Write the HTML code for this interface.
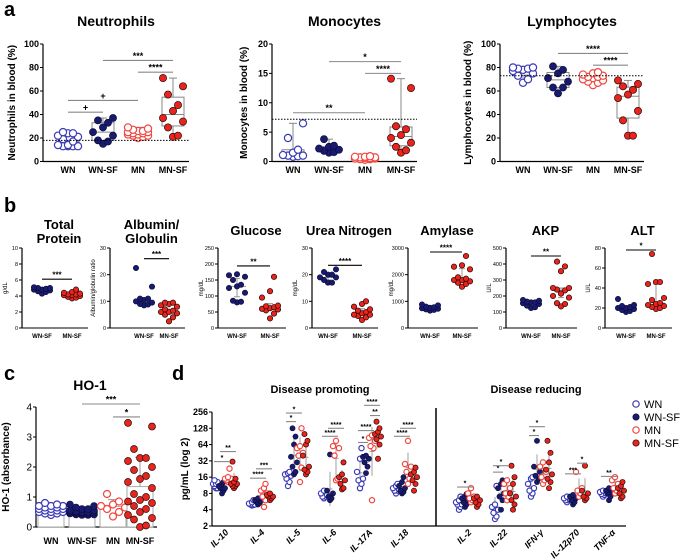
<!DOCTYPE html>
<html><head><meta charset="utf-8"><style>
html,body{margin:0;padding:0;background:#fff}
svg{display:block;font-family:"Liberation Sans",Arial,sans-serif}
</style></head><body>
<svg id="fig" width="683" height="559" viewBox="0 0 683 559" xmlns="http://www.w3.org/2000/svg"></svg>
<script>
// ---------- DATA ----------
const groupsA = ["WN","WN-SF","MN","MN-SF"];
const neutroWN   = [13,13,13,14,14,17,19,21,22,24,25,24,13];
const neutroWNSF = [15,17,18,22,25,29,33,35,37];
const neutroMN   = [20,21,22,23,23,24,24,25,25,26,26,27,28,29,22];
const neutroMNSF = [21,22,29,34,37,43,48,57,64,71];
const monoWN   = [0.8,0.9,1.0,1.0,1.1,1.5,2.0,4.0,6.5];
const monoWNSF = [1.5,1.6,1.8,2.0,2.2,2.5,2.7,3.8];
const monoMN   = [0.3,0.4,0.5,0.5,0.6,0.7,0.8,0.8,0.9,0.4,0.6,0.7];
const monoMNSF = [1.5,1.9,2.5,3.2,4.0,4.5,5.5,6.0,12.5,14.1];
const lymWN   = [67,70,73,75,77,78,79,79,80,80];
const lymWNSF = [58,63,63,68,71,75,78,81];
const lymMN   = [65,67,68,70,71,72,73,74,75,76,72,69];
const lymMNSF = [22,22,35,43,54,57,61,64,66,69];
const neutroTicks = [0,20,40,60,80,100];
const monoTicks = [0,5,10,15,20];
const lymTicks = [0,20,40,60,80,100];

const groupsB = ["WN-SF","MN-SF"];
const tpWN=[4.3,4.5,4.6,4.7,4.8,4.8,4.9,5.0,5.0,5.1], tpMN=[3.7,3.8,3.9,4.0,4.1,4.1,4.2,4.2,4.3,4.4,4.5,4.8];
const agWN=[8.5,8.8,9,9.5,10,10.5,11,11,15.5,22.5], agMN=[2.5,4,5,5.5,6,6,6.5,7,8,8.5,9,9.5,9.5];
const gluWN=[80,82,85,110,125,130,135,150,160,165,168], gluMN=[30,45,55,58,60,62,65,68,70,95,115,160];
const ureaWN=[17,17,18,19,19,20,20,21,22], ureaMN=[3,4,4.5,5,5,5.5,6,6.5,7,8,9,10];
const amyWN=[650,680,700,720,740,760,780,800,850,880], amyMN=[1550,1650,1700,1750,1800,1800,1850,1900,2200,2300,2350,2700];
const akpWN=[125,130,140,150,155,160,160,165,170,175], akpMN=[135,150,155,190,200,215,235,240,250,250,355,385,415];
const altWN=[16,17,18,19,20,20,21,22,23,29], altMN=[19,20,21,22,23,24,25,28,30,44,46,46,74];

const hoWN=[0.4,0.45,0.5,0.5,0.55,0.55,0.6,0.6,0.6,0.65,0.7,0.7,0.7,0.75,0.8,0.5,0.45,0.65];
const hoWNSF=[0.4,0.4,0.42,0.45,0.45,0.48,0.5,0.5,0.5,0.52,0.55,0.55,0.6,0.6,0.65,0.7,0.75,0.45,0.5,0.42];
const hoMN=[0.35,0.5,0.6,0.65,0.7,0.75,0.85,1.1];
const hoMNSF=[0,0.05,0.3,0.4,0.5,0.6,0.7,0.8,0.9,1.0,1.1,1.3,1.5,1.6,1.7,1.9,2.0,2.2,2.3,2.3,2.6,3.35,3.47,0.85,0.25];
const hoTicks=[0,1,2,3,4];

const cytoProm = ["IL-10","IL-4","IL-5","IL-6","IL-17A","IL-18"];
const cytoRed  = ["IL-2","IL-22","IFN-γ","IL-12p70","TNF-α"];
const cWN = [[10,11,12,13,14,11,12,10],[4.8,5,5.2,5.5,6,5,4.9],[11,13,15,17,18,20,19],[6.5,7,7.5,8,9,7],[10,12,14,15,20,35,55],[8,9,9.5,10,11,12,9],
             [4,4.5,5,5.5,6,7,5],[2.7,3,3.5,4,4.5,5,11],[7,8,9,10,12,15,16],[5.5,6,6.2,6.5,7,6],[7,7.5,8,8.5,9,7.8]];
const cWNSF=[[8,9,10,11,12,13,10],[5,5.3,5.6,6,6.5,5.8],[18,20,25,30,38,64,90,128],[6,6.5,7,8,9,42],[19,25,30,35,38,40],[8,8.5,9,10,11,13,16],
             [4.5,5,5.5,6,6.5,7,7.8],[4,6,7,8,10,12,14],[13,15,17,20,25,75],[5,5.5,6,6.5,7,7.5],[6,7,8,8.5,9,10]];
const cMN = [[13,14,15,16,23,14,15],[4.5,6,7,8,9,10,12],[13,24,40,45,60,55,128],[14,15,40,55,60,75],[6,55,60,75,85,95],[12,15,20,25,28,75],
             [5.5,6,7,8,10,6.5],[6,7,8,10,12,14],[12,14,16,20,25,30],[7,8,9,10,20],[8,9,10,12,14,16]];
const cMNSF=[[10,11,12,13,15,31,11,12],[6,6.5,7,7.5,8,7],[18,20,22,25,40,64,75,100],[9.5,10,12,14,16,18,30],[35,64,80,90,100,110,128,170],[9,12,14,16,18,20,24],
             [4.5,5,5.5,6,6.5,7],[4,5,6,7,8,12,16,26],[10,13,15,18,22,30,45,75],[6,6.5,7,8,9,26],[6.5,7,8,9,10,11,13]];
const logTicks=[2,4,8,16,32,64,128,256];
// significance: [group index, from series, to series, value, label]
const sigD=[[0,0,2,31,"*"],[0,1,3,47.5,"**"],[1,0,2,15.3,"****"],[1,1,3,22.8,"***"],[2,0,1,170,"*"],[2,0,2,245,"*"],
            [3,0,2,91,"****"],[3,1,3,128,"****"],[4,0,1,70,"*"],[4,0,2,116,"****"],[4,1,3,340,"****"],[4,2,3,220,"**"],
            [5,0,2,91,"****"],[5,1,3,128,"****"],[6,0,2,10.5,"*"],[7,0,1,19.8,"*"],[7,0,2,26,"*"],[8,0,1,94,"*"],[8,0,2,137,"*"],
            [9,0,2,18.4,"***"],[9,2,3,29,"*"],[10,0,2,16.5,"**"]];

// ---------- HELPERS ----------
const NS="http://www.w3.org/2000/svg";
const svg=document.getElementById('fig');
const NAVY='#171a6e', BLUE='#3b3bb8', RED='#e8241c', LRED='#f2463f';
const STY=[{f:'#fff',s:BLUE,w:1.2},{f:NAVY,s:'#0a0a30',w:0.6},{f:'#fff',s:LRED,w:1.2},{f:RED,s:'#2a0a0a',w:0.7}];
function mk(tag,attrs,parent){const e=document.createElementNS(NS,tag);for(const k in attrs)e.setAttribute(k,attrs[k]);(parent||svg).appendChild(e);return e;}
function txt(x,y,s,size,opts,parent){const o=Object.assign({x:x,y:y,'font-size':size,'text-anchor':'middle',fill:'#000'},opts||{});const e=mk('text',o,parent);e.textContent=s;return e;}
function line(x1,y1,x2,y2,st,w,parent){return mk('line',{x1:x1,y1:y1,x2:x2,y2:y2,stroke:st,'stroke-width':w},parent);}
function q(arr,p){const a=[...arr].sort((x,y)=>x-y);const i=(a.length-1)*p;const lo=Math.floor(i),hi=Math.ceil(i);return a[lo]+(a[hi]-a[lo])*(i-lo);}
function mean(a){return a.reduce((s,v)=>s+v,0)/a.length;}
function sd(a){const m=mean(a);return Math.sqrt(a.reduce((s,v)=>s+(v-m)*(v-m),0)/(a.length-1));}
function jit(i,n,w){const k=i%5;return ((k%2?1:-1)*Math.ceil(k/2))*w/2;}
function dots(vals,cx,ys,r,sty,spread,parent,name){
  const sorted=[...vals].sort((a,b)=>a-b);
  sorted.forEach((v,i)=>{const c=mk('circle',{cx:cx+jit(i,vals.length,spread),cy:ys(v),r:r,fill:sty.f,stroke:sty.s,'stroke-width':sty.w},parent);
    
    });
}
function group(name){const g=mk('g',{});return g;}

function yAxis(g,ax,yTop,yBot,min,max,ticks,fs,bold){
  const ys=v=>yBot-(v-min)/(max-min)*(yBot-yTop);
  const a=line(ax,yTop,ax,yBot,'#000',1.2,g);
  
  
  ticks.forEach(t=>{line(ax-3,ys(t),ax,ys(t),'#000',1,g);
    const l=txt(ax-4,ys(t)+fs*0.35,String(t),fs,{'text-anchor':'end','font-weight':bold?'bold':'normal'},g);
    
    });
  return ys;
}
function sig(g,x1,x2,y,label,col,fs){line(x1,y,x2,y,col,1.1,g);const t=txt((x1+x2)/2,y-1.5,label,fs,{'font-weight':'bold'},g);
  
  }

// ---------- PANEL LABELS ----------
[["a",4,16],["b",4,212],["c",4,380],["d",172,380]].forEach(p=>{const t=txt(p[1],p[2],p[0],20,{'text-anchor':'start','font-weight':'bold'});
  
  });

// ---------- PANEL A ----------
function boxPanel(name,title,ytitle,ax,x0,step,ytitleX,max,ticks,series,dashed,sigs){
  const g=group(name);
  const yTop=44,yBot=161.5;
  const ys=yAxis(g,ax,yTop,yBot,0,max,ticks,9,true);
  const xEnd=x0+3*step+16;
  line(ax,yBot,xEnd,yBot,'#000',1.2,g);
  const tt=txt((ax+xEnd)/2,26,title,14,{'font-weight':'bold'},g);
  
  
  const yt=txt(0,0,ytitle,10,{'font-weight':'bold',transform:`translate(${ytitleX},${(yTop+yBot)/2}) rotate(-90)`},g);
  
  
  series.forEach((vals,i)=>{const cx=x0+i*step;
    const q1=q(vals,0.25),q3=q(vals,0.75),md=q(vals,0.5),mn=Math.min(...vals),mx=Math.max(...vals);
    line(cx,ys(mx),cx,ys(q3),'#888',1,g);line(cx,ys(q1),cx,ys(mn),'#888',1,g);
    line(cx-4,ys(mx),cx+4,ys(mx),'#888',1,g);line(cx-4,ys(mn),cx+4,ys(mn),'#888',1,g);
    const b=mk('rect',{x:cx-11,y:ys(q3),width:22,height:ys(q1)-ys(q3),fill:'none',stroke:'#888','stroke-width':1},g);
    
    
    line(cx-11,ys(md),cx+11,ys(md),'#888',1,g);
    dots(vals,cx,ys,3.6,STY[i],10,g,groupsA[i].toLowerCase());
    const xl=txt(cx,173,groupsA[i],9,{'font-weight':'bold'},g);
    
    
  });
  const d=line(ax,ys(dashed),xEnd,ys(dashed),'#000',1,g);d.setAttribute('stroke-dasharray','1.5,1.5');
  sigs.forEach(s=>sig(g,x0+s[0]*step,x0+s[1]*step,ys(s[2]),s[3],'#888',9));
}
boxPanel('neutrophils-chart','Neutrophils','Neutrophils in blood (%)',43,68,35,15,100,neutroTicks,[neutroWN,neutroWNSF,neutroMN,neutroMNSF],18,
  [[1,3,86,'***'],[2,3,76,'****'],[0,2,52,'+'],[0,1,42,'+']]);
boxPanel('monocytes-chart','Monocytes','Monocytes in blood (%)',272,293,36,247,20,monoTicks,[monoWN,monoWNSF,monoMN,monoMNSF],7.2,
  [[1,3,17,'*'],[2,3,15,'****'],[0,2,8.3,'**']]);
boxPanel('lymphocytes-chart','Lymphocytes','Lymphocytes in blood (%)',500,523,35,471,100,lymTicks,[lymWN,lymWNSF,lymMN,lymMNSF],73,
  [[1,3,92,'****'],[2,3,82,'****']]);

// ---------- PANEL B ----------
function dotPanel(name,title,ytitle,ax,c1,c2,max,ticks,a,b,sigv,sigl){
  const g=group(name);
  const yTop=248,yBot=328;
  const ys=yAxis(g,ax,yTop,yBot,0,max,ticks,5.5,false);
  const xEnd=c2+16;
  line(ax,yBot,xEnd,yBot,'#000',1,g);
  const lines=title.split('|');
  lines.forEach((l,i)=>{const t=txt((ax+xEnd)/2+4,lines.length>1?229+i*14:235,l,13,{'font-weight':'bold'},g);
    
    });
  const yt=txt(0,0,ytitle,6,{transform:`translate(${ax-15},${(yTop+yBot)/2}) rotate(-90)`},g);
  
  
  [[a,c1,1],[b,c2,3]].forEach((s,k)=>{const vals=s[0],cx=s[1];
    const q1=q(vals,0.25),q3=q(vals,0.75),md=q(vals,0.5);
    line(cx,ys(q3),cx,ys(q1),'#999',1,g);line(cx-3,ys(q3),cx+3,ys(q3),'#999',1,g);line(cx-3,ys(q1),cx+3,ys(q1),'#999',1,g);
    line(cx-9,ys(md),cx+9,ys(md),'#999',1,g);
    dots(vals,cx,ys,2.7,STY[s[2]],8,g,groupsB[k].toLowerCase());
    const xl=txt(cx,338,groupsB[k],6,{'font-weight':'bold'},g);
    
    
  });
  sig(g,c1,c2,ys(sigv),sigl,'#000',8);
}
dotPanel('total-protein-chart','Total|Protein','g/dL',22,42,72,10,[0,2,4,6,8,10],tpWN,tpMN,6.1,'***');
dotPanel('albumin-globulin-chart','Albumin/|Globulin','Albumin/globulin ratio',110,144,169,30,[0,10,20,30],agWN,agMN,26,'***');
dotPanel('glucose-chart','Glucose','mg/dL',218,237,270,250,[0,50,100,150,200,250],gluWN,gluMN,194,'**');
dotPanel('urea-nitrogen-chart','Urea Nitrogen','mg/dL',312,328,362,30,[0,10,20,30],ureaWN,ureaMN,23.5,'****');
dotPanel('amylase-chart','Amylase','mg/dL',408,430,462,3000,[0,1000,2000,3000],amyWN,amyMN,2850,'****');
dotPanel('akp-chart','AKP','U/L',506,531,561,500,[0,100,200,300,400,500],akpWN,akpMN,450,'**');
dotPanel('alt-chart','ALT','U/L',605,626,656,80,[0,20,40,60,80],altWN,altMN,78,'*');

// ---------- PANEL C ----------
(function(){
  const g=group('ho1-chart');
  const ax=36,yTop=407,yBot=527;
  const ys=yAxis(g,ax,yTop,yBot,0,4,hoTicks,10,false);
  line(ax,yBot,157,yBot,'#000',1.2,g);
  const t=txt(90,390,'HO-1',14,{'font-weight':'bold'},g);
  
  
  const yt=txt(0,0,'HO-1 (absorbance)',10,{'font-weight':'bold',transform:`translate(9,${(yTop+yBot)/2}) rotate(-90)`},g);
  
  
  const cxs=[51,82,113,140];
  [hoWN,hoWNSF,hoMN,hoMNSF].forEach((vals,i)=>{const cx=cxs[i],m=mean(vals),s=sd(vals);
    const b=mk('rect',{x:cx-13,y:ys(m),width:26,height:yBot-ys(m),fill:'#fff',stroke:'#aaa','stroke-width':1},g);
    
    
    line(cx,ys(m),cx,ys(m+s),'#999',1,g);line(cx-5,ys(m+s),cx+5,ys(m+s),'#999',1,g);
    dots(vals,cx,ys,3.5,STY[i],12,g,groupsA[i].toLowerCase());
    const xl=txt(cx,544,groupsA[i],9,{'font-weight':'bold'},g);
    
    
  });
  sig(g,cxs[1],cxs[3],ys(4.1),'***','#888',9);
  sig(g,cxs[2],cxs[3],ys(3.67),'*','#888',9);
})();

// ---------- PANEL D ----------
(function(){
  const g=group('cytokine-chart');
  const ax=212,yTop=412,yBot=526;
  const ys=v=>yBot-(Math.log2(v)-1)/7*(yBot-yTop);
  const a=line(ax,yTop,ax,yBot,'#000',1.2,g);
  
  
  logTicks.forEach(t=>{line(ax-3,ys(t),ax,ys(t),'#000',1,g);
    const l=txt(ax-4,ys(t)+3,String(t),9,{'text-anchor':'end','font-weight':'bold'},g);
    
    });
  line(ax,yBot,626,yBot,'#000',1.2,g);
  const dv=line(436,408,436,yBot,'#000',1.5,g);
  
  
  const yt=txt(0,0,'pg/mL (log 2)',10,{'font-weight':'bold',transform:`translate(188,${(yTop+yBot)/2}) rotate(-90)`},g);
  
  
  const t1=txt(320,393,'Disease promoting',11,{'font-weight':'bold'},g);
  
  
  const t2=txt(536,393,'Disease reducing',11,{'font-weight':'bold'},g);
  
  
  const cats=cytoProm.concat(cytoRed);
  const gx=i=>i<6?225+i*36:468+(i-6)*36;
  const offs=[-9,-3,3,9];
  const all=[cWN,cWNSF,cMN,cMNSF];
  cats.forEach((c,i)=>{
    all.forEach((ser,k)=>{const vals=ser[i],cx=gx(i)+offs[k];
      const lv=vals.map(v=>Math.log2(v)),m=mean(lv),s=sd(lv);
      line(cx,ys(Math.pow(2,m+s)),cx,ys(Math.pow(2,m-s)),'#888',0.8,g);
      line(cx-2.5,ys(Math.pow(2,m)),cx+2.5,ys(Math.pow(2,m)),'#888',0.8,g);
      dots(vals,cx,ys,2.6,STY[k],3,g,groupsA[k].toLowerCase());
    });
    const l=txt(0,0,c,9,{'font-weight':'bold','font-style':'italic','text-anchor':'end',transform:`translate(${gx(i)+4},533) rotate(-45)`},g);
    
    
  });
  sigD.forEach(s=>sig(g,gx(s[0])+offs[s[1]]-2,gx(s[0])+offs[s[2]]+2,ys(s[3]),s[4],'#888',7));
  const lg=group('legend');
  groupsA.forEach((n,i)=>{const y=404+i*13;
    const c=mk('circle',{cx:636,cy:y,r:3.2,fill:STY[i].f,stroke:STY[i].s,'stroke-width':STY[i].w},lg);
    
    
    const t=txt(644,y+4,n,11,{'text-anchor':'start'},lg);
    
    
  });
})();
</script>
</body></html>
